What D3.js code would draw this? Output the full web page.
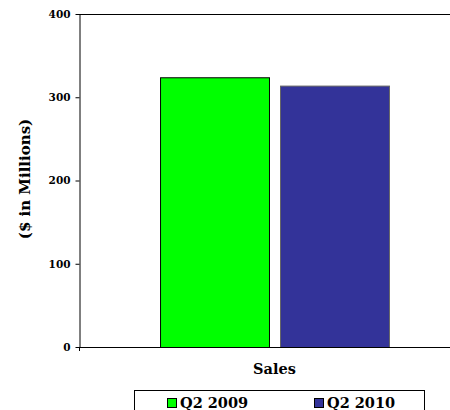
<!DOCTYPE html>
<html>
<head>
<meta charset="utf-8">
<script src="https://cdn.jsdelivr.net/npm/d3@7"></script>
<style>
  body { margin: 0; background: #fff; }
  svg text { font-family: "DejaVu Serif", Georgia, serif; font-weight: bold; }
</style>
</head>
<body>
<svg id="chart" width="450" height="410"></svg>
<script>
// chart data
var categories = ["Sales"];
var series = ["Q2 2009", "Q2 2010"];
var values = [324, 314];
var colors = ["#00ff00", "#333399"];
var strokes = ["#000000", "#666666"];
var yTicks = [0, 100, 200, 300, 400];

var svg = d3.select("#chart");

// plot box (note: "top" is taken by window, so use other names)
var plotL = 79, plotR = 470, plotT = 14, plotB = 347;

var y = d3.scaleLinear().domain([0, 400]).range([plotB, plotT]);
var x0 = d3.scaleBand().domain(categories).range([plotL, plotR]).paddingInner(0).paddingOuter(0.354);
var x1 = d3.scaleBand().domain(series).range([0, x0.bandwidth()]).paddingInner(0.092);

// top border of plot
svg.append("line")
    .attr("x1", plotL).attr("x2", plotR)
    .attr("y1", plotT + 0.5).attr("y2", plotT + 0.5)
    .attr("stroke", "#000");

// bars
var g = svg.append("g");
categories.forEach(function(c){
    series.forEach(function(s, i){
	g.append("rect")
	    .attr("x", x0(c) + x1(s) + 0.5)
	    .attr("y", y(values[i]) + 0.5)
	    .attr("width", x1.bandwidth())
	    .attr("height", plotB - y(values[i]))
	    .attr("fill", colors[i])
	    .attr("stroke", strokes[i])
	    .attr("stroke-width", 1);
    });
});

// y axis
var yAxis = svg.append("g")
    .attr("transform", "translate(" + (plotL + 0.5) + ",0)")
    .call(d3.axisLeft(y).tickValues(yTicks).tickSize(4).tickPadding(5).tickSizeOuter(0));
yAxis.select(".domain").attr("stroke", "#000");
yAxis.selectAll("text").style("font-size", "10.5px").attr("fill", "#000");

// x axis line
svg.append("line")
    .attr("x1", plotL - 1).attr("x2", plotR)
    .attr("y1", plotB + 0.5).attr("y2", plotB + 0.5)
    .attr("stroke", "#000");
svg.append("line")
    .attr("x1", plotL + 0.5).attr("x2", plotL + 0.5)
    .attr("y1", plotB).attr("y2", plotB + 4)
    .attr("stroke", "#000");

// category label
svg.append("text")
    .attr("x", x0(categories[0]) + x0.bandwidth() / 2)
    .attr("y", 374)
    .attr("text-anchor", "middle")
    .style("font-size", "14.5px")
    .text(categories[0]);

// y title
svg.append("text")
    .attr("transform", "translate(30,179) rotate(-90)")
    .attr("text-anchor", "middle")
    .style("font-size", "15px")
    .text("($ in Millions)");

// legend
var lg = svg.append("g");
lg.append("rect")
    .attr("x", 134.5).attr("y", 390.5)
    .attr("width", 290).attr("height", 30)
    .attr("fill", "#fff").attr("stroke", "#000");
var legX = [167, 314];
series.forEach(function(s, i){
    lg.append("rect")
	.attr("x", legX[i] + 0.5).attr("y", 398.5)
	.attr("width", 9).attr("height", 9)
	.attr("fill", colors[i]).attr("stroke", "#000");
    lg.append("text")
	.attr("x", legX[i] + 13).attr("y", 408)
	.style("font-size", "14.5px")
	.text(s);
});
</script>
</body>
</html>
